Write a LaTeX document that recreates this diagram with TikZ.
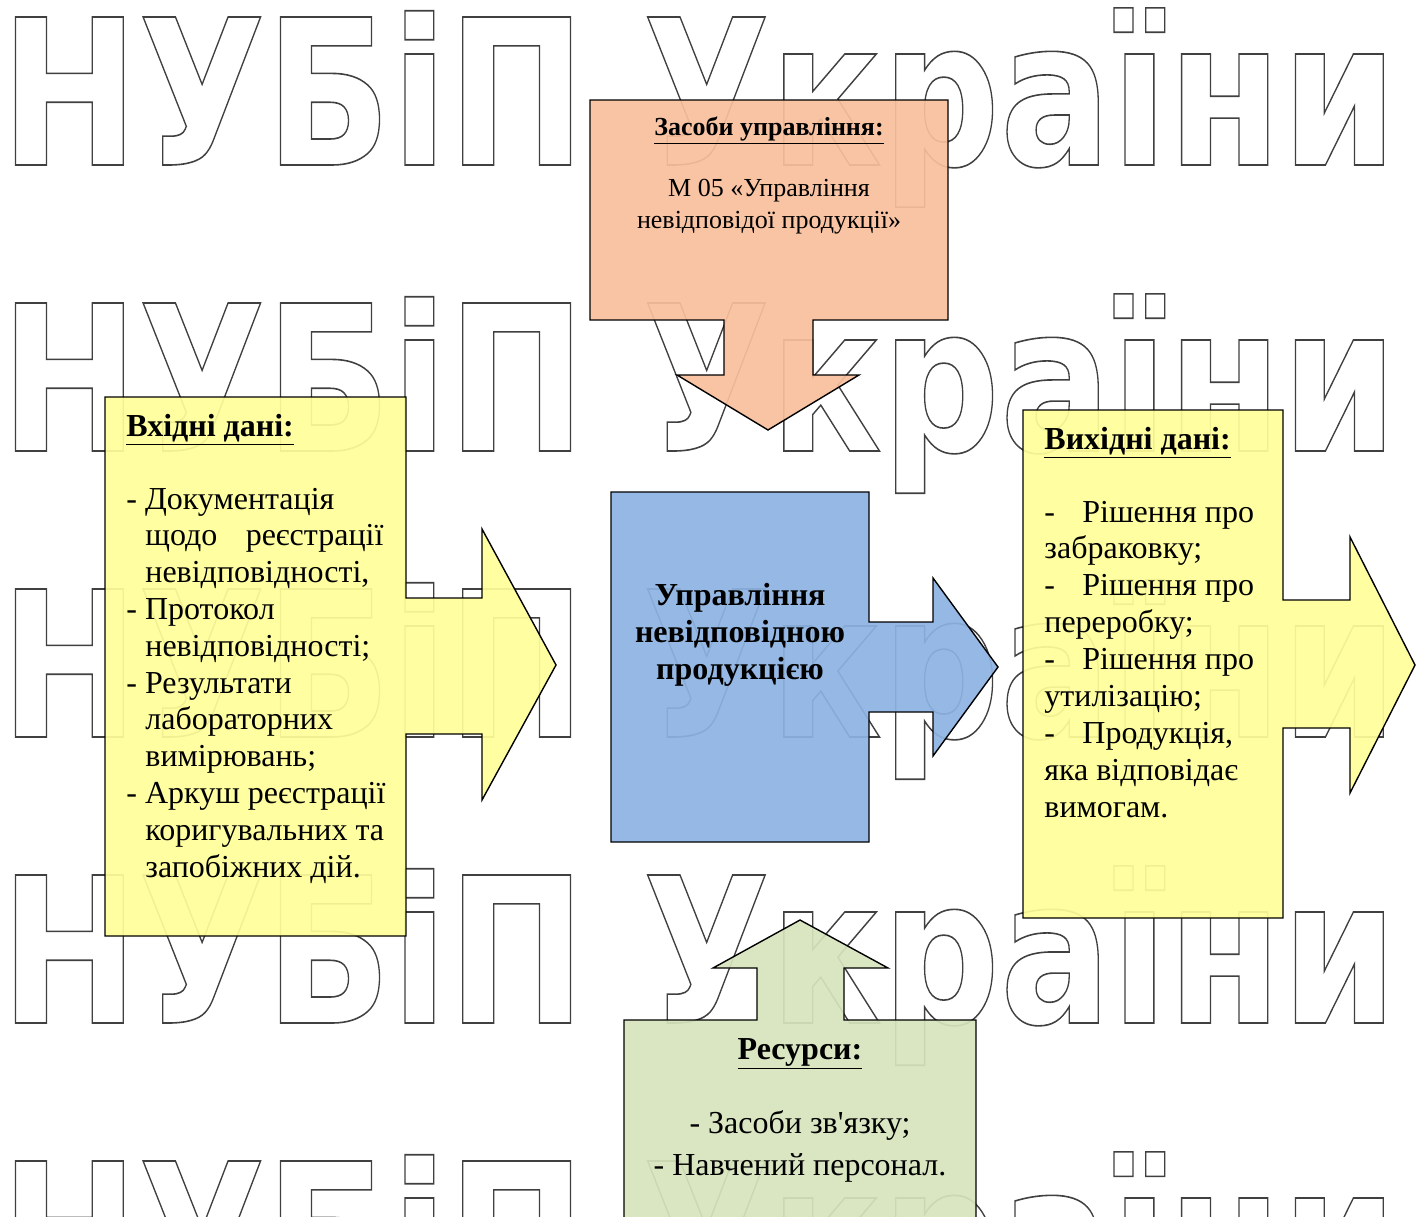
\documentclass[tikz,border=0pt]{standalone}
\usepackage{fontspec}
\setmainfont{Liberation Serif}[Ligatures=TeXOff]
\newfontfamily\wmfont{DejaVu Sans}
\usepackage{graphicx}
\definecolor{orangefill}{HTML}{F9C09C}
\definecolor{yellowfill}{HTML}{FFFF99}
\definecolor{bluefill}{HTML}{8DB3E2}
\definecolor{greenfill}{HTML}{D7E4BD}
\makeatletter
\newcommand\wmoutlineon{\pgfsys@invoke{1 Tr 0.8 w}}
\newcommand\wmoutlineoff{\pgfsys@invoke{0 Tr}}
\makeatother
\newcommand\wmtext{\wmoutlineon\scalebox{0.812}[1]{\wmfont\bfseries\fontsize{101.5}{101.5}\selectfont НУБіП України}\wmoutlineoff}
\tikzset{
  wm/.style={anchor=base west, inner sep=0pt, text=black!75},
  shp/.style={draw=black, line width=0.7pt, line join=miter, fill opacity=0.92},
  body/.style={anchor=base west, inner sep=0pt, font=\fontsize{16}{18.4}\selectfont},
  bodyc/.style={anchor=base, inner sep=0pt, font=\fontsize{16}{18.4}\selectfont},
  small/.style={anchor=base, inner sep=0pt, font=\fontsize{13}{16}\selectfont},
  ctr/.style={anchor=base, inner sep=0pt, font=\fontsize{16}{18.4}\selectfont\bfseries},
}
\begin{document}
\begin{tikzpicture}[x=0.5pt,y=-0.5pt]
\useasboundingbox (0,0) rectangle (1422,1216);
\clip (0,0) rectangle (1422,1216);
\fill[white] (0,0) rectangle (1422,1216);
% watermark
\foreach \k in {0,...,4}{
  \node[wm] (wm\k) at (0,165+286*\k) {\wmtext};
}
% control (top, orange)
\path[shp, fill=orangefill] (590,100) -- (948,100) -- (948,320) -- (813,320) -- (813,375) -- (859,375)
  -- (768,430) -- (677,375) -- (724,375) -- (724,320) -- (590,320) -- cycle;
% input (left, yellow)
\path[shp, fill=yellowfill] (105,397) -- (406,397) -- (406,598) -- (482,598) -- (482,529) -- (556,665)
  -- (482,800) -- (482,734) -- (406,734) -- (406,936) -- (105,936) -- cycle;
% process (centre, blue)
\path[shp, fill=bluefill] (611,492) -- (869,492) -- (869,622) -- (933,622) -- (933,578) -- (998,667)
  -- (933,756) -- (933,712) -- (869,712) -- (869,842) -- (611,842) -- cycle;
% output (right, yellow)
\path[shp, fill=yellowfill] (1023,410) -- (1283,410) -- (1283,600) -- (1350,600) -- (1350,537) -- (1415,665)
  -- (1350,793) -- (1350,728) -- (1283,728) -- (1283,918) -- (1023,918) -- cycle;
% resources (bottom, green)
\path[shp, fill=greenfill] (624,1240) -- (624,1020) -- (757,1020) -- (757,968) -- (713,968) -- (800,920)
  -- (888,968) -- (844,968) -- (844,1020) -- (976,1020) -- (976,1240);
% texts: control
\node[small, font=\fontsize{13}{16}\selectfont\bfseries] (ctlhead) at (769,135) {\underline{Засоби управління:}};
\node[small] (ctl1) at (769,196) {М 05 «Управління};
\node[small] (ctl2) at (769,228) {невідповідої продукції»};
% texts: input
\node[body, font=\fontsize{16}{18.4}\selectfont\bfseries] (inhead) at (126,436) {\underline{Вхідні дані:}};
\node[body] (in0) at (126,509) {- Документація};
\node[body] (in1) at (145,545.8) {\hbox to 119pt{щодо\hfill реєстрації}};
\node[body] (in2) at (145,582.6) {невідповідності,};
\node[body] (in3) at (126,619.4) {- Протокол};
\node[body] (in4) at (145,656.2) {невідповідності;};
\node[body] (in5) at (126,693) {- Результати};
\node[body] (in6) at (145,729.8) {лабораторних};
\node[body] (in7) at (145,766.6) {вимірювань;};
\node[body] (in8) at (126,803.4) {- Аркуш реєстрації};
\node[body] (in9) at (145,840.2) {коригувальних та};
\node[body] (in10) at (145,877) {запобіжних дій.};
% texts: process
\node[ctr] (pr1) at (740,605) {Управління};
\node[ctr] (pr2) at (740,642) {невідповідною};
\node[ctr] (pr3) at (740,679) {продукцією};
% texts: output
\node[body, font=\fontsize{16}{18.4}\selectfont\bfseries] (outhead) at (1044,449) {\underline{Вихідні дані:}};
\node[body] (out0) at (1044,522) {\makebox[19pt][l]{-}Рішення про};
\node[body] (out1) at (1044,558.9) {забраковку;};
\node[body] (out2) at (1044,595.8) {\makebox[19pt][l]{-}Рішення про};
\node[body] (out3) at (1044,632.7) {переробку;};
\node[body] (out4) at (1044,669.6) {\makebox[19pt][l]{-}Рішення про};
\node[body] (out5) at (1044,706.5) {утилізацію;};
\node[body] (out6) at (1044,743.4) {\makebox[19pt][l]{-}Продукція,};
\node[body] (out7) at (1044,780.3) {яка відповідає};
\node[body] (out8) at (1044,817.2) {вимогам.};
% texts: resources
\node[bodyc, font=\fontsize{16}{18.4}\selectfont\bfseries] (reshead) at (800,1059) {\underline{Ресурси:}};
\node[bodyc] (res1) at (800,1133) {- Засоби зв'язку;};
\node[bodyc] (res2) at (800,1175) {- Навчений персонал.};
\end{tikzpicture}
\end{document}
